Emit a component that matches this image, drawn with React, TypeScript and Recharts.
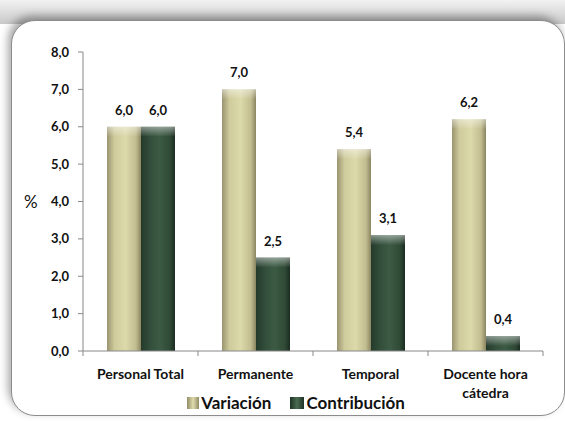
import { BarChart, Bar, XAxis, YAxis, Legend, LabelList } from 'recharts';

const CATEGORIES = ['Personal Total', 'Permanente', 'Temporal', 'Docente hora cátedra'];
const VARIACION = [6.0, 7.0, 5.4, 6.2];
const CONTRIBUCION = [6.0, 2.5, 3.1, 0.4];
const Y_TICKS = [0, 1, 2, 3, 4, 5, 6, 7, 8];

const data = CATEGORIES.map((name, i) => ({
    name,
    variacion: VARIACION[i],
    contribucion: CONTRIBUCION[i],
}));

const FONT = 'Lato, "Open Sans", sans-serif';
const fmt = (v: number) => v.toFixed(1).replace('.', ',');

const BevelBar = (props: any) => {
    const { x, y, width, height, fillId } = props;
    if (!height || height <= 0) return null;
    const cap = Math.min(10, height);
    return (
        <g>
            <rect x={x} y={y} width={width} height={height} fill={`url(#${fillId})`} />
            <rect x={x} y={y} width={width} height={cap} fill="url(#capShade)" />
        </g>
    );
};

// category label, wrapped, plus tick marks at the category edges
const XTick = (props: any) => {
    const { x, y, payload, index, visibleTicksCount } = props;
    const half = payload.offset || 0;
    const words = String(payload.value).split(' ');
    const lines: string[] = [];
    let cur = '';
    words.forEach((w) => {
        const next = cur ? cur + ' ' + w : w;
        if (next.length > 14 && cur) {
            lines.push(cur);
            cur = w;
        } else {
            cur = next;
        }
    });
    if (cur) lines.push(cur);
    const last = index === (visibleTicksCount ?? CATEGORIES.length) - 1;
    return (
        <g>
            <line x1={x - half} x2={x - half} y1={y} y2={y + 5} stroke="#888" />
            {last && <line x1={x + half} x2={x + half} y1={y} y2={y + 5} stroke="#888" />}
            <text x={x} y={y + 8} textAnchor="middle" fontFamily={FONT} fontWeight={700} fontSize={14} fill="#111">
                {lines.map((l, i) => (
                    <tspan key={i} x={x} dy={i === 0 ? 20 : 19}>{l}</tspan>
                ))}
            </text>
        </g>
    );
};

const LegendContent = () => (
    <div style={{ display: 'flex', justifyContent: 'center', gap: 19, fontFamily: FONT, fontWeight: 700, fontSize: 17, color: '#111' }}>
        <span style={{ display: 'flex', alignItems: 'center' }}>
            <svg width={12} height={12} style={{ marginRight: 2 }}>
                <rect width={12} height={12} fill="url(#legBeige)" />
                <defs>
                    <linearGradient id="legBeige" x1="0" x2="1" y1="0" y2="0">
                        <stop offset="0" stopColor="#8f8a63" />
                        <stop offset="0.5" stopColor="#e0dcad" />
                        <stop offset="1" stopColor="#8f8a63" />
                    </linearGradient>
                </defs>
            </svg>
            Variación
        </span>
        <span style={{ display: 'flex', alignItems: 'center' }}>
            <svg width={14} height={12} style={{ marginRight: 2 }}>
                <rect width={14} height={12} fill="url(#legGreen)" />
                <defs>
                    <linearGradient id="legGreen" x1="0" x2="1" y1="0" y2="0">
                        <stop offset="0" stopColor="#1e3325" />
                        <stop offset="0.5" stopColor="#4a6b52" />
                        <stop offset="1" stopColor="#1e3325" />
                    </linearGradient>
                </defs>
            </svg>
            Contribución
        </span>
    </div>
);

export default function App() {
    return (
        <div style={{ position: 'absolute', left: 0, top: 0, width: 565, height: 421, background: '#fff', overflow: 'hidden' }}>
            <div style={{ position: 'absolute', left: 0, top: 0, width: 565, height: 24, background: 'linear-gradient(#f2f2f2, #c9c9c9)' }} />
            <div
                style={{
                    position: 'absolute',
                    left: 11,
                    top: 20,
                    width: 552,
                    height: 394,
                    borderRadius: 24,
                    border: '1px solid #8c8c8c',
                    background: '#fff',
                    boxShadow: '-3px -4px 8px rgba(0,0,0,0.35)',
                }}
            />
            <div style={{ position: 'absolute', left: 0, top: 0 }}>
                <BarChart
                    width={565}
                    height={421}
                    data={data}
                    margin={{ top: 52, right: 22, bottom: 0, left: 0 }}
                    barCategoryGap={24}
                    barGap={0}
                >
                    <defs>
                        <linearGradient id="beigeFill" x1="0" x2="1" y1="0" y2="0">
                            <stop offset="0" stopColor="#9a9470" />
                            <stop offset="0.22" stopColor="#cfcb9c" />
                            <stop offset="0.55" stopColor="#dcd9ab" />
                            <stop offset="0.85" stopColor="#c2bd90" />
                            <stop offset="1" stopColor="#8a8560" />
                        </linearGradient>
                        <linearGradient id="greenFill" x1="0" x2="1" y1="0" y2="0">
                            <stop offset="0" stopColor="#243a2b" />
                            <stop offset="0.3" stopColor="#34503c" />
                            <stop offset="0.55" stopColor="#3c5a44" />
                            <stop offset="0.85" stopColor="#2f4a36" />
                            <stop offset="1" stopColor="#1b2c20" />
                        </linearGradient>
                        <linearGradient id="capShade" x1="0" x2="0" y1="0" y2="1">
                            <stop offset="0" stopColor="#ffffff" stopOpacity={0.45} />
                            <stop offset="1" stopColor="#ffffff" stopOpacity={0} />
                        </linearGradient>
                    </defs>
                    <XAxis
                        dataKey="name"
                        interval={0}
                        tick={<XTick />}
                        tickLine={false}
                        tickSize={0}
                        tickMargin={0}
                        axisLine={{ stroke: '#888' }}
                        height={70}
                    />
                    <YAxis
                        domain={[0, 8]}
                        ticks={Y_TICKS}
                        width={83}
                        tickFormatter={fmt}
                        tickSize={5}
                        tickMargin={9}
                        axisLine={{ stroke: '#888' }}
                        tickLine={{ stroke: '#888' }}
                        tick={{ fontFamily: FONT, fontWeight: 700, fontSize: 13, fill: '#111' }}
                        label={{ value: '%', position: 'insideLeft', offset: 24, style: { textAnchor: 'start', fontFamily: FONT, fontSize: 17, fill: '#111' } }}
                    />
                    <Legend layout="vertical" align="center" verticalAlign="middle" content={<LegendContent />} wrapperStyle={{ top: 392, left: 0, width: 592, height: 20 }} />
                    <Bar dataKey="variacion" name="Variación" isAnimationActive={false} shape={<BevelBar fillId="beigeFill" />}>
                        <LabelList dataKey="variacion" position="top" offset={12} formatter={(v: any) => fmt(Number(v))} style={{ fontFamily: FONT, fontWeight: 700, fontSize: 13, fill: '#111' }} />
                    </Bar>
                    <Bar dataKey="contribucion" name="Contribución" isAnimationActive={false} shape={<BevelBar fillId="greenFill" />}>
                        <LabelList dataKey="contribucion" position="top" offset={12} formatter={(v: any) => fmt(Number(v))} style={{ fontFamily: FONT, fontWeight: 700, fontSize: 13, fill: '#111' }} />
                    </Bar>
                </BarChart>
            </div>
        </div>
    );
}
